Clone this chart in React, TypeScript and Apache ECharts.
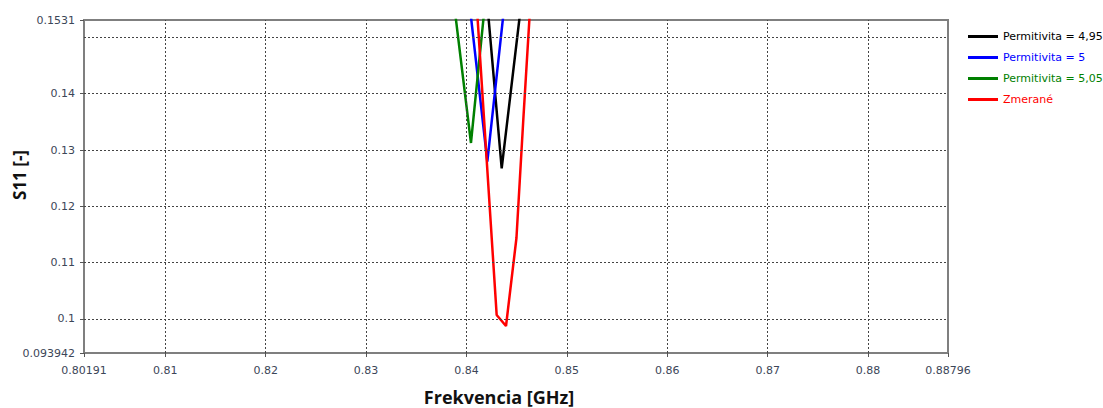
import React, { useEffect, useRef } from "react";
import * as echarts from "echarts";

// Frequency axis bounds and tick positions (GHz)
const xMin = 0.80191;
const xMax = 0.88796;
const xLabelValues = [0.80191, 0.81, 0.82, 0.83, 0.84, 0.85, 0.86, 0.87, 0.88, 0.88796];
const xGridValues = [0.81, 0.82, 0.83, 0.84, 0.85, 0.86, 0.87, 0.88];

// S11 axis bounds and tick positions
const yMin = 0.093942;
const yMax = 0.1531;
const yLabelValues = [0.093942, 0.1, 0.11, 0.12, 0.13, 0.14, 0.1531];
const yGridValues = [0.1, 0.11, 0.12, 0.13, 0.14, 0.15];

// Simulated curves for three permittivity values
const freq495 = [0.84188, 0.84351, 0.84572];
const s11495 = [0.16, 0.12675, 0.16];

const freq5 = [0.84005, 0.84208, 0.84404];
const s115 = [0.16, 0.12793, 0.16];

const freq505 = [0.83849, 0.84045, 0.84207];
const s11505 = [0.16, 0.13125, 0.16];

// Measured curve
const freqMeas = [0.84087, 0.84301, 0.84394, 0.84498, 0.84566, 0.8465];
const s11Meas = [0.16, 0.10069, 0.09874, 0.11437, 0.13534, 0.16];

const seriesNames = ["Permitivita = 4,95", "Permitivita = 5", "Permitivita = 5,05", "Zmerané"];
const seriesColors = ["#000000", "#0000ff", "#008000", "#ff0000"];

const zip = (xs: number[], ys: number[]) => xs.map((x, i) => [x, ys[i]]);

export default function App() {
  const ref = useRef<HTMLDivElement>(null);

  useEffect(() => {
    if (!ref.current) return;
    const chart = echarts.init(ref.current, null, { renderer: "svg" });

    const labelStyle = {
      color: "#3c4658",
      fontFamily: "DejaVu Sans",
      fontSize: 11,
    };
    const gridLineStyle = { color: "#444", type: [2, 2] as any, width: 1 };
    const axisLine = { show: true, lineStyle: { color: "#7f7f7f", width: 2 } };
    const fmt = (v: number) => String(parseFloat(v.toFixed(6)));

    const dataSets = [
      zip(freq495, s11495),
      zip(freq5, s115),
      zip(freq505, s11505),
      zip(freqMeas, s11Meas),
    ];

    chart.setOption({
      animation: false,
      backgroundColor: "#ffffff",
      grid: {
        left: 84,
        right: 155,
        top: 20,
        bottom: 55,
        show: true,
        borderColor: "#7f7f7f",
        borderWidth: 2,
      },
      xAxis: {
        type: "value",
        min: xMin,
        max: xMax,
        axisLine,
        axisTick: {
          show: true,
          length: 4,
          customValues: xLabelValues,
          lineStyle: { color: "#555" },
        },
        axisLabel: {
          ...labelStyle,
          margin: 12,
          customValues: xLabelValues,
          formatter: fmt,
        },
        splitLine: { show: false },
      },
      yAxis: {
        type: "value",
        min: yMin,
        max: yMax,
        axisLine,
        axisTick: {
          show: true,
          length: 4,
          customValues: yLabelValues,
          lineStyle: { color: "#555" },
        },
        axisLabel: {
          ...labelStyle,
          margin: 9,
          customValues: yLabelValues,
          formatter: fmt,
        },
        splitLine: { show: false },
      },
      legend: {
        orient: "vertical",
        left: 963,
        top: 26,
        icon: "rect",
        itemWidth: 30,
        itemHeight: 3,
        itemGap: 10,
        textStyle: { fontFamily: "DejaVu Sans", fontSize: 11 },
        data: seriesNames.map((n, i) => ({
          name: n,
          textStyle: { color: seriesColors[i] },
        })),
      },
      graphic: [
        {
          type: "text",
          x: 499,
          y: 397,
          style: {
            text: "Frekvencia [GHz]",
            font: "bold 18px 'Open Sans'",
            fill: "#111",
            align: "center",
            verticalAlign: "middle",
          },
        },
        {
          type: "text",
          x: 19,
          y: 175,
          rotation: Math.PI / 2,
          style: {
            text: "S11 [-]",
            font: "bold 17px 'Open Sans'",
            fill: "#111",
            align: "center",
            verticalAlign: "middle",
          },
        },
      ],
      series: [
        // Dotted grid lines drawn at the tick positions
        {
          type: "line",
          data: [],
          silent: true,
          markLine: {
            silent: true,
            symbol: "none",
            label: { show: false },
            lineStyle: gridLineStyle,
            data: [
              ...xGridValues.map((v) => ({ xAxis: v })),
              ...yGridValues.map((v) => ({ yAxis: v })),
            ],
          },
        },
        ...dataSets.map((d, i) => ({
          name: seriesNames[i],
          type: "line",
          data: d,
          symbol: "none",
          clip: true,
          lineStyle: { color: seriesColors[i], width: 2.5 },
          itemStyle: { color: seriesColors[i] },
        })),
      ],
    });

    return () => chart.dispose();
  }, []);

  return (
    <div
      ref={ref}
      style={{ position: "absolute", left: 0, top: 0, width: 1103, height: 408, background: "#fff" }}
    />
  );
}
